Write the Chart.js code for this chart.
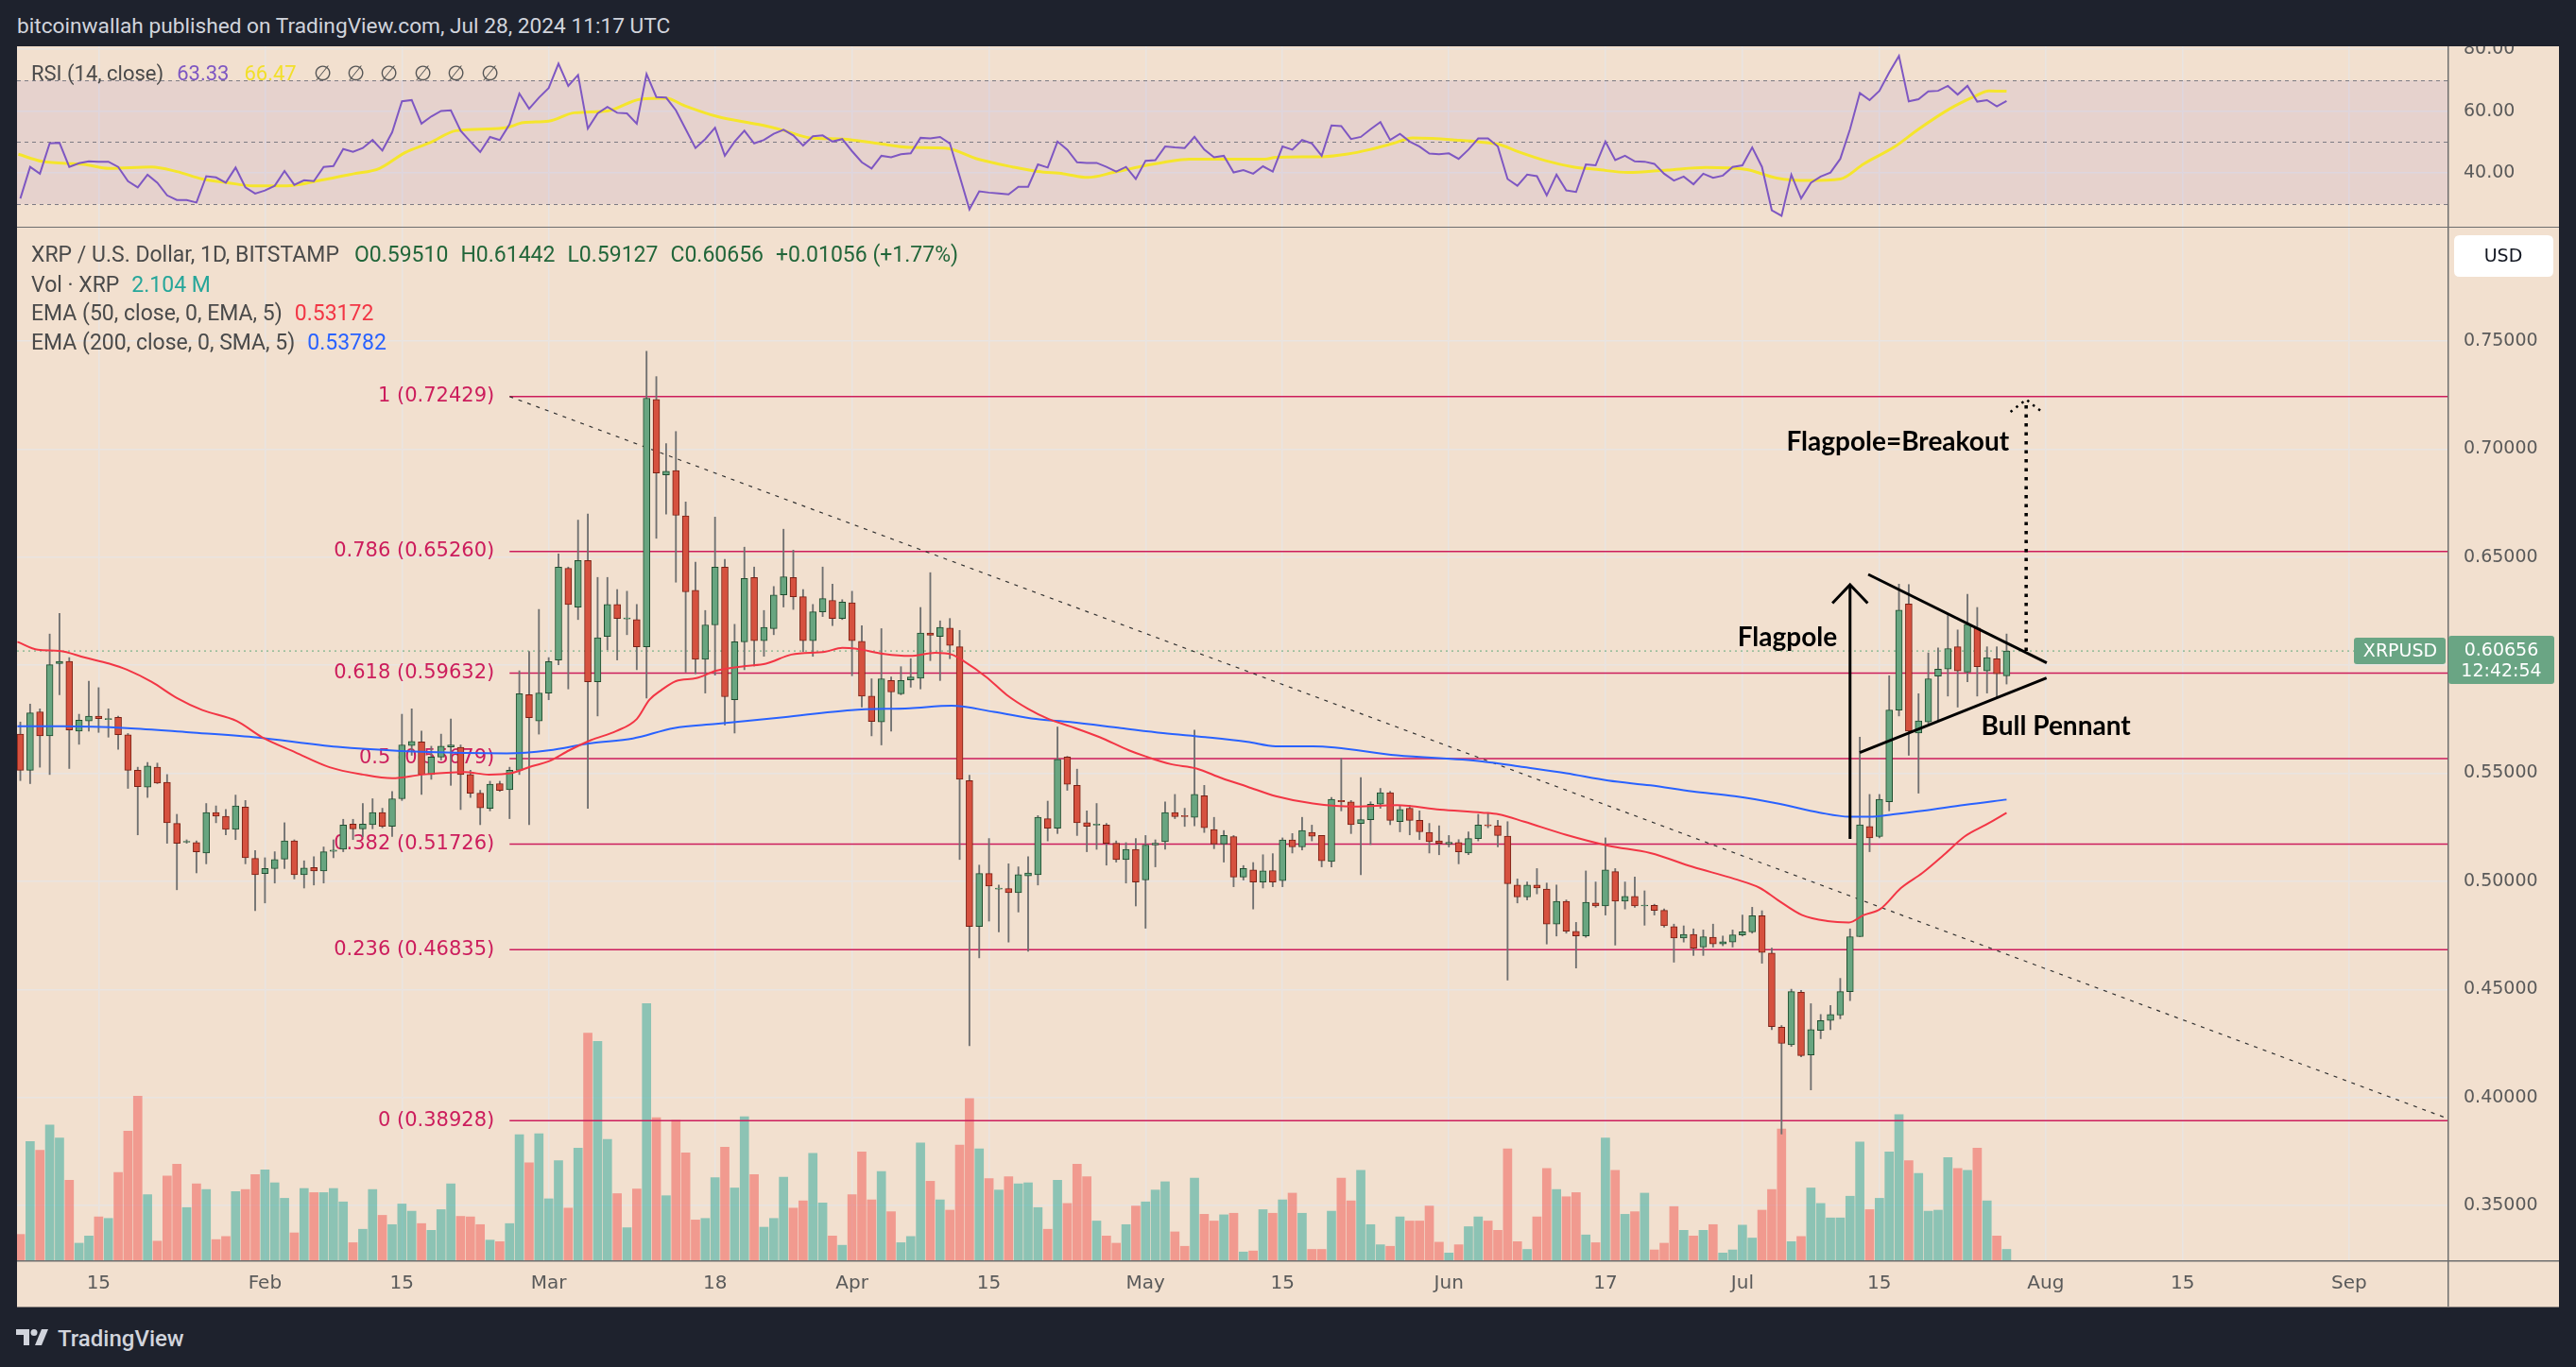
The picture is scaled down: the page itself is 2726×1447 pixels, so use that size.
<!DOCTYPE html>
<html>
<head>
<meta charset="utf-8">
<title>XRP / U.S. Dollar, 1D, BITSTAMP</title>
<script src="https://cdn.jsdelivr.net/npm/chart.js@4.4.1/dist/chart.umd.min.js"></script>
<style>
  html, body { margin: 0; padding: 0; width: 2726px; height: 1447px; overflow: hidden; background: #1e222d; font-family: Roboto, "Noto Sans", sans-serif; }
  #head { position: absolute; left: 18px; top: 13px; line-height: 30px; font-size: 22.7px; color: #d1d4dc; white-space: nowrap; }
  #frame { position: absolute; left: 18px; top: 49px; width: 2690px; height: 1334px; background: #f2e0cf; }
  #rsiBox { position: absolute; left: 0; top: 0; width: 2690px; height: 191px; }
  #sep { position: absolute; left: 0; top: 191px; width: 2690px; height: 1px; background: #6e6e6e; }
  #mainBox { position: absolute; left: 0; top: 192px; width: 2690px; height: 1142px; }
  #bottomLine { position: absolute; left: 18px; top: 1383px; width: 2690px; height: 1px; background: #8d8580; }
  .lg { position: absolute; left: 33px; line-height: 30px; font-size: 23px; color: #4a4a4a; white-space: nowrap; }
  .lg span { margin-left: 13px; }
  .rsiLg { font-size: 22px; }
  .ohlc { color: #22663a; }
  #logo { position: absolute; left: 17px; top: 1403px; display: flex; align-items: center; color: #d1d4dc; font-size: 24px; font-weight: 500; }
  #logo svg { margin-right: 8px; }
</style>
</head>
<body>
<div id="head">bitcoinwallah published on TradingView.com, Jul 28, 2024 11:17 UTC</div>
<div id="frame">
  <div id="rsiBox"><canvas id="rsiChart"></canvas></div>
  <div id="sep"></div>
  <div id="mainBox"><canvas id="priceChart"></canvas></div>
</div>
<div id="bottomLine"></div>

<div class="lg rsiLg" style="top:63px">RSI (14, close)<span style="color:#7e57c2;margin-left:14px">63.33</span><span style="color:#f2df2a;margin-left:16px">66.47</span><span style="color:#555;margin-left:18px">∅&nbsp;&nbsp; ∅&nbsp;&nbsp; ∅&nbsp;&nbsp; ∅&nbsp;&nbsp; ∅&nbsp;&nbsp; ∅</span></div>
<div class="lg" style="top:255px">XRP / U.S. Dollar, 1D, BITSTAMP<span class="ohlc" style="margin-left:16px">O0.59510</span><span class="ohlc">H0.61442</span><span class="ohlc">L0.59127</span><span class="ohlc">C0.60656</span><span class="ohlc">+0.01056 (+1.77%)</span></div>
<div class="lg" style="top:287px">Vol · XRP<span style="color:#26a69a">2.104 M</span></div>
<div class="lg" style="top:317px">EMA (50, close, 0, EMA, 5)<span style="color:#f23645">0.53172</span></div>
<div class="lg" style="top:348px">EMA (200, close, 0, SMA, 5)<span style="color:#2962ff">0.53782</span></div>

<div id="logo">
  <svg width="36" height="20" viewBox="0 0 36 20"><path d="M0 0h14v17H8V6H0z" fill="#d1d4dc"/><circle cx="19" cy="3.5" r="3.5" fill="#d1d4dc"/><path d="M27 0h7l-7 17h-7z" fill="#d1d4dc"/></svg>
  TradingView
</div>

<script>
// day numbers count from Jan 1, 2024 = 0; first candle is Jan 7 (day 6)
const startDay = 6;

const opens = [
  0.5681,0.5514,0.5784,0.5673,0.6007,0.6018,0.5695,0.5742,0.5764,0.5748,
  0.5759,0.5678,0.5514,0.5436,0.5528,0.5458,0.5268,0.5181,0.5179,0.5131,
  0.5318,0.5301,0.5240,0.5343,0.5106,0.5036,0.5059,0.5103,0.5187,0.5031,
  0.5064,0.5048,0.5139,0.5148,0.5265,0.5243,0.5262,0.5318,0.5254,0.5382,
  0.5628,0.5645,0.5494,0.5575,0.5622,0.5620,0.5494,0.5408,0.5338,0.5452,
  0.5424,0.5514,0.5863,0.5742,0.5871,0.6024,0.6448,0.6269,0.6484,0.5923,
  0.6133,0.6281,0.6214,0.6211,0.6085,0.7229,0.6880,0.6900,0.6691,0.6347,
  0.6027,0.6186,0.6454,0.5840,0.6108,0.6406,0.6113,0.6169,0.6325,0.6406,
  0.6317,0.6113,0.6247,0.6300,0.6216,0.6289,0.6110,0.5857,0.5737,0.5929,
  0.5868,0.5932,0.5940,0.6149,0.6133,0.6172,0.6085,0.5466,0.4791,0.5036,
  0.4964,0.4967,0.4947,0.5025,0.5031,0.5290,0.5246,0.5575,0.5444,0.5271,
  0.5260,0.5260,0.5176,0.5101,0.5148,0.5006,0.5168,0.5184,0.5318,0.5304,
  0.5296,0.5396,0.5240,0.5173,0.5207,0.5020,0.5053,0.4997,0.5050,0.5003,
  0.5192,0.5159,0.5226,0.5212,0.5092,0.5374,0.5368,0.5268,0.5285,0.5357,
  0.5410,0.5276,0.5338,0.5282,0.5226,0.5187,0.5173,0.5179,0.5131,0.5198,
  0.5260,0.5257,0.5209,0.4983,0.4928,0.4983,0.4964,0.4802,0.4908,0.4769,
  0.4747,0.4900,0.4886,0.5045,0.4908,0.4930,0.4886,0.4889,0.4866,0.4791,
  0.4738,0.4755,0.4696,0.4741,0.4710,0.4719,0.4752,0.4766,0.4841,0.4668,
  0.4325,0.4244,0.4487,0.4197,0.4311,0.4356,0.4381,0.4490,0.4744,0.5254,
  0.5207,0.5368,0.5792,0.6283,0.5686,0.5737,0.5949,0.5982,0.6085,0.5968,
  0.6172,0.5974,0.6030,0.59510
];
const highs = [
  0.5737,0.5820,0.5798,0.6144,0.6239,0.6035,0.5773,0.5926,0.5896,0.5798,
  0.5764,0.5684,0.5528,0.5550,0.5547,0.5494,0.5310,0.5192,0.5187,0.5360,
  0.5349,0.5332,0.5399,0.5374,0.5142,0.5109,0.5137,0.5271,0.5192,0.5095,
  0.5114,0.5159,0.5192,0.5287,0.5287,0.5360,0.5382,0.5338,0.5416,0.5773,
  0.5798,0.5695,0.5625,0.5681,0.5751,0.5631,0.5514,0.5421,0.5463,0.5463,
  0.5528,0.5974,0.6063,0.6258,0.6035,0.6515,0.6454,0.6671,0.6699,0.6406,
  0.6406,0.6350,0.6342,0.6281,0.7452,0.7335,0.7025,0.7081,0.6755,0.6476,
  0.6253,0.6685,0.6490,0.6189,0.6546,0.6454,0.6253,0.6364,0.6629,0.6532,
  0.6350,0.6281,0.6454,0.6375,0.6303,0.6342,0.6183,0.5937,0.6169,0.5946,
  0.5993,0.6030,0.6267,0.6428,0.6205,0.6216,0.6161,0.5491,0.5075,0.5198,
  0.4983,0.5081,0.5067,0.5114,0.5304,0.5371,0.5714,0.5578,0.5519,0.5326,
  0.5360,0.5268,0.5187,0.5179,0.5198,0.5212,0.5192,0.5368,0.5402,0.5338,
  0.5700,0.5444,0.5296,0.5235,0.5212,0.5073,0.5087,0.5123,0.5128,0.5201,
  0.5221,0.5296,0.5260,0.5212,0.5388,0.5569,0.5374,0.5480,0.5368,0.5430,
  0.5416,0.5352,0.5352,0.5326,0.5268,0.5257,0.5212,0.5193,0.5229,0.5310,
  0.5318,0.5282,0.5276,0.5011,0.4997,0.5059,0.4992,0.4983,0.4914,0.4810,
  0.5048,0.4997,0.5201,0.5059,0.4997,0.5020,0.4956,0.4894,0.4872,0.4802,
  0.4794,0.4780,0.4775,0.4802,0.4747,0.4775,0.4844,0.4880,0.4864,0.4691,
  0.4333,0.4501,0.4495,0.4434,0.4384,0.4426,0.4551,0.4780,0.5667,0.5402,
  0.5402,0.5951,0.6375,0.6373,0.5868,0.6057,0.6080,0.6230,0.6163,0.6328,
  0.6267,0.6085,0.6085,0.61442
];
const lows = [
  0.5466,0.5452,0.5528,0.5494,0.5863,0.5522,0.5634,0.5695,0.5689,0.5667,
  0.5611,0.5430,0.5215,0.5388,0.5452,0.5176,0.4961,0.5176,0.5039,0.5081,
  0.5271,0.5215,0.5193,0.5081,0.4864,0.4900,0.4992,0.5059,0.5011,0.4969,
  0.4983,0.4992,0.5109,0.5137,0.5193,0.5207,0.5243,0.5248,0.5207,0.5374,
  0.5583,0.5402,0.5472,0.5561,0.5444,0.5332,0.5388,0.5262,0.5326,0.5416,
  0.5290,0.5494,0.5262,0.5681,0.5840,0.6002,0.5890,0.6211,0.5338,0.5765,
  0.6071,0.6024,0.6141,0.5979,0.5848,0.6587,0.6699,0.6384,0.5968,0.5960,
  0.5871,0.5954,0.5723,0.5686,0.5979,0.5996,0.6041,0.6141,0.6269,0.6258,
  0.6063,0.6041,0.6225,0.6183,0.6211,0.5951,0.5806,0.5673,0.5631,0.5695,
  0.5863,0.5898,0.5890,0.6021,0.5929,0.6030,0.5101,0.4239,0.4646,0.4816,
  0.4766,0.4719,0.4858,0.4677,0.4983,0.5187,0.5221,0.5421,0.5212,0.5137,
  0.5148,0.5075,0.5089,0.4992,0.4886,0.4783,0.5067,0.5148,0.5290,0.5254,
  0.5257,0.5226,0.5151,0.5089,0.4975,0.5006,0.4872,0.4969,0.4975,0.4975,
  0.5131,0.5145,0.5187,0.5067,0.5067,0.5326,0.5221,0.5031,0.5170,0.5338,
  0.5262,0.5229,0.5215,0.5193,0.5131,0.5123,0.5159,0.5081,0.5123,0.5187,
  0.5248,0.5159,0.4543,0.4900,0.4914,0.4942,0.4710,0.4747,0.4760,0.4599,
  0.4741,0.4880,0.4844,0.4705,0.4872,0.4880,0.4797,0.4844,0.4788,0.4626,
  0.4719,0.4657,0.4657,0.4696,0.4702,0.4696,0.4747,0.4760,0.4621,0.4314,
  0.3831,0.4236,0.4188,0.4035,0.4272,0.4314,0.4364,0.4448,0.4744,0.5137,
  0.5201,0.5326,0.5765,0.5583,0.5408,0.5731,0.5745,0.5857,0.5806,0.5923,
  0.5857,0.5871,0.5848,0.59127
];
const closes = [
  0.5514,0.5779,0.5673,0.6002,0.6018,0.5700,0.5745,0.5764,0.5753,0.5753,
  0.5678,0.5514,0.5438,0.5533,0.5455,0.5271,0.5176,0.5184,0.5137,0.5318,
  0.5301,0.5240,0.5349,0.5109,0.5031,0.5059,0.5101,0.5187,0.5031,0.5062,
  0.5048,0.5137,0.5145,0.5260,0.5243,0.5265,0.5318,0.5254,0.5382,0.5631,
  0.5647,0.5494,0.5575,0.5625,0.5631,0.5494,0.5408,0.5340,0.5449,0.5421,
  0.5514,0.5868,0.5757,0.5871,0.6016,0.6454,0.6281,0.6484,0.5923,0.6127,
  0.6281,0.6216,0.6216,0.6085,0.7235,0.6889,0.6897,0.6693,0.6339,0.6027,
  0.6186,0.6454,0.5854,0.6108,0.6401,0.6113,0.6175,0.6325,0.6409,0.6317,
  0.6113,0.6247,0.6308,0.6216,0.6292,0.6113,0.5857,0.5740,0.5937,0.5876,
  0.5929,0.5946,0.6149,0.6138,0.6175,0.6091,0.5472,0.4791,0.5036,0.4978,
  0.4967,0.4947,0.5031,0.5039,0.5296,0.5246,0.5564,0.5449,0.5271,0.5254,
  0.5262,0.5176,0.5101,0.5148,0.4997,0.5168,0.5176,0.5318,0.5299,0.5299,
  0.5402,0.5248,0.5173,0.5212,0.5020,0.5059,0.4997,0.5048,0.4997,0.5192,
  0.5159,0.5235,0.5209,0.5095,0.5380,0.5368,0.5262,0.5285,0.5357,0.5410,
  0.5282,0.5332,0.5282,0.5229,0.5184,0.5176,0.5181,0.5137,0.5198,0.5260,
  0.5257,0.5212,0.4989,0.4928,0.4983,0.4969,0.4802,0.4908,0.4769,0.4747,
  0.4903,0.4886,0.5053,0.4908,0.4930,0.4886,0.4889,0.4866,0.4794,0.4738,
  0.4755,0.4691,0.4744,0.4710,0.4721,0.4752,0.4766,0.4841,0.4671,0.4328,
  0.4250,0.4490,0.4194,0.4314,0.4356,0.4384,0.4490,0.4744,0.5262,0.5201,
  0.5380,0.5792,0.6255,0.5695,0.5742,0.5937,0.5982,0.6077,0.5974,0.6189,
  0.5993,0.6035,0.5960,0.60656
];
// volume, millions of XRP
const volumes = [
  5.0,23.0,21.3,26.2,23.7,15.5,3.3,4.7,8.4,8.1,
  17.0,25.0,31.8,12.7,3.7,16.3,18.6,10.2,14.8,13.7,
  4.0,4.6,13.3,13.7,16.6,17.5,15.0,12.0,5.3,13.9,
  13.1,13.1,13.9,11.3,3.4,6.0,13.7,8.7,6.9,10.9,
  9.5,7.1,5.8,9.8,14.8,8.5,8.4,6.9,3.9,3.6,
  7.1,24.3,18.9,24.5,11.9,19.3,10.1,21.7,44.0,42.4,
  23.4,12.9,6.3,13.8,49.7,27.6,12.5,27.1,20.8,7.8,
  8.1,16.0,21.9,14.0,27.8,16.6,6.4,8.1,16.1,10.1,
  11.5,20.7,11.1,4.7,2.9,12.7,21.0,11.7,17.2,9.4,
  3.4,4.6,22.7,15.3,11.7,9.7,22.3,31.3,21.6,15.8,
  13.6,16.2,14.8,15.0,10.2,6.0,15.5,11.0,18.6,16.2,
  7.6,4.7,3.3,6.9,10.5,11.3,13.6,15.2,5.5,2.7,
  15.9,8.9,7.6,8.8,9.1,1.6,1.8,9.8,9.1,11.7,
  13.0,9.1,2.1,2.1,9.5,15.9,11.5,17.4,6.9,3.0,
  2.7,8.4,7.6,7.6,10.5,3.5,1.4,3.0,6.5,8.4,
  7.6,5.8,21.6,3.6,2.1,8.4,17.8,13.7,12.3,13.1,
  4.9,3.4,23.7,17.4,8.9,9.4,13.0,2.0,3.3,10.4,
  5.8,4.7,5.8,6.9,1.4,2.0,6.8,4.3,9.7,13.7,
  25.4,3.6,4.6,14.0,11.0,8.2,8.2,12.4,22.9,9.8,
  12.0,21.0,28.2,19.3,16.8,9.5,9.7,19.9,17.8,17.4,
  21.7,11.5,4.7,2.104
];
const rsiValues = [
  31.8,42.0,39.8,49.6,49.8,42.0,43.2,43.8,43.7,43.7,
  42.0,37.4,35.4,39.5,36.9,32.8,31.3,31.3,30.5,39.0,
  38.6,36.9,41.8,35.4,33.4,34.4,35.9,40.7,36.2,37.7,
  37.4,42.0,42.3,47.8,46.9,48.1,50.7,47.3,53.2,63.2,
  63.6,56.0,58.3,60.1,60.3,53.7,50.2,46.8,51.7,50.7,
  55.8,65.7,60.8,64.4,67.5,75.4,68.2,71.7,54.4,59.3,
  61.4,59.5,59.3,56.0,72.0,64.6,64.4,60.3,54.2,48.1,
  51.0,54.7,45.6,50.2,53.7,49.6,50.7,52.7,54.0,52.2,
  48.9,51.9,52.2,50.2,51.0,47.1,43.5,41.5,45.6,45.1,
  46.1,46.4,51.4,51.2,51.7,49.6,39.0,28.3,34.1,33.7,
  33.4,33.1,35.6,35.6,42.8,41.8,50.2,47.6,43.5,43.3,
  43.3,42.0,40.5,42.0,38.1,44.0,44.2,48.6,48.3,48.1,
  51.7,47.6,45.1,45.6,40.2,41.0,39.8,42.2,40.5,48.6,
  47.6,50.7,49.6,45.6,55.4,55.2,51.0,51.7,54.2,56.5,
  50.7,52.7,50.2,48.6,46.3,46.1,46.4,44.6,47.6,51.2,
  51.2,48.6,38.1,35.9,39.5,39.0,32.8,39.5,34.4,33.9,
  42.8,42.5,50.2,44.2,45.6,43.8,43.7,43.0,39.8,37.6,
  38.9,36.4,39.8,38.5,39.2,42.0,42.5,48.3,42.0,28.0,
  26.2,39.5,31.8,36.9,38.9,40.2,44.6,54.2,65.9,63.6,
  66.6,72.5,77.9,63.2,63.9,66.4,66.6,68.2,65.4,68.2,
  63.1,63.6,61.6,63.33
];
const rsiMaDays = [5.8,8.2,12.5,15.1,19.4,22.0,24.6,27.2,29.8,33.2,36.7,40.1,42.7,45.3,47.9,50.5,53.1,55.7,57.4,60.0,
  62.6,66.0,69.4,72.0,73.8,77.2,81.5,84.1,86.7,90.1,93.6,97.0,100.5,103.9,107.4,110.0,112.6,115.1,117.7,120.3,
  122.9,125.5,128.9,133.2,134.3,139.1,141.5,143.9,146.3,148.3,150.3,152.7,155.1,157.1,159.1,161.9,164.7,167.1,170.3,174.3,
  178.3,182.3,185.5,188.7,192.0,194.4,197.6,200.0,203.2,205.6,207.2,209.0];
const rsiMaValues = [46.1,43.8,42.8,41.5,42.0,40.5,38.1,36.9,35.9,35.9,37.7,39.8,41.5,46.6,49.9,53.7,54.2,54.7,56.3,56.8,
  59.5,60.1,63.9,64.2,61.9,58.3,55.7,53.7,51.4,51.0,49.6,48.3,48.1,44.5,42.0,40.5,39.8,38.6,40.2,42.0,
  43.5,44.5,44.5,44.5,45.1,45.3,46.1,47.6,49.6,51.4,51.2,50.7,50.1,49.3,46.9,44.0,42.0,41.2,40.2,41.0,
  41.8,41.2,38.4,37.6,38.1,43.0,48.6,54.2,60.8,64.6,66.6,66.47];
const ema50Days = [5.7,7.8,10.0,12.6,15.1,16.9,19.4,22.0,24.6,28.1,30.7,34.1,37.6,41.0,44.0,47.1,51.4,53.9,56.1,58.3,
  60.0,62.1,64.3,66.9,69.0,70.3,71.5,73.0,75.1,77.1,80.1,82.2,84.8,88.3,90.0,91.3,94.3,96.9,99.5,101.2,
  102.5,104.7,106.8,109.0,111.1,113.3,116.3,119.3,121.0,123.6,126.2,128.8,131.4,134.3,138.1,142.4,146.7,151.1,155.4,157.1,
  159.7,164.0,168.3,172.6,176.9,181.2,183.8,185.6,188.1,190.7,192.9,194.4,196.1,198.2,200.4,202.6,204.7,206.9,209.0];
const ema50Values = [0.6108,0.6071,0.6066,0.6035,0.6007,0.5979,0.5923,0.5848,0.5792,0.5742,0.5667,0.5597,0.5528,0.5494,0.5477,0.5494,0.5505,0.5494,0.5500,0.5533,
  0.5555,0.5606,0.5653,0.5695,0.5751,0.5840,0.5884,0.5926,0.5940,0.5974,0.5996,0.6007,0.6049,0.6063,0.6080,0.6077,0.6052,0.6043,0.6057,0.6049,
  0.6016,0.5946,0.5863,0.5798,0.5751,0.5717,0.5667,0.5606,0.5578,0.5542,0.5522,0.5477,0.5438,0.5394,0.5360,0.5346,0.5352,0.5332,0.5318,0.5310,
  0.5276,0.5215,0.5165,0.5131,0.5067,0.5011,0.4969,0.4914,0.4844,0.4816,0.4810,0.4844,0.4872,0.4969,0.5039,0.5123,0.5207,0.5262,0.53172];
const ema200Days = [5.7,10.4,16.9,23.3,29.8,38.4,44.9,51.4,55.7,60.0,64.3,68.6,72.8,77.1,84.0,90.9,96.9,101.2,105.5,109.8,
  113.3,118.5,122.8,127.1,131.4,134.3,138.1,146.7,155.4,159.7,164.0,168.3,172.6,176.9,181.2,185.6,189.9,192.9,195.0,197.4,
  200.4,204.7,209.0];
const ema200Values = [0.5717,0.5717,0.5709,0.5689,0.5667,0.5622,0.5603,0.5594,0.5592,0.5606,0.5639,0.5661,0.5709,0.5728,0.5759,0.5792,0.5801,0.5812,0.5784,0.5751,
  0.5737,0.5709,0.5686,0.5667,0.5645,0.5625,0.5625,0.5583,0.5555,0.5528,0.5500,0.5466,0.5444,0.5416,0.5394,0.5360,0.5318,0.5299,0.5299,0.5310,
  0.5326,0.5354,0.53782];

const priceTicks = [0.35, 0.40, 0.45, 0.50, 0.55, 0.60, 0.65, 0.70, 0.75];
const rsiTicks = [40, 60, 80];
const rsiLevels = [70, 50, 30];
const xTickDays = [14, 31, 45, 60, 77, 91, 105, 121, 135, 152, 168, 182, 196, 213, 227, 244];
const xTickLabels = ['15', 'Feb', '15', 'Mar', '18', 'Apr', '15', 'May', '15', 'Jun', '17', 'Jul', '15', 'Aug', '15', 'Sep'];

const fibLevels = ['1', '0.786', '0.618', '0.5', '0.382', '0.236', '0'];
const fibPrices = [0.72429, 0.65260, 0.59632, 0.55679, 0.51726, 0.46835, 0.38928];
const fibStartDay = 56;
const trendDays = [56, 254.06];
const trendPrices = [0.7243, 0.3903];

// hand drawn annotations, in (day, price)
const flagpoleDays = [193.0, 193.0];
const flagpolePrices = [0.5196, 0.6372];
const flagpoleHeadDays = [191.2, 193.0, 194.8];
const flagpoleHeadPrices = [0.6287, 0.6372, 0.6287];
const pennantTopDays = [194.86, 213.1];
const pennantTopPrices = [0.6420, 0.6011];
const pennantBottomDays = [193.99, 213.08];
const pennantBottomPrices = [0.5596, 0.5941];
const breakoutDays = [211.0, 211.0];
const breakoutPrices = [0.6066, 0.7229];
const breakoutHeadDays = [209.4, 211.0, 212.8];
const breakoutHeadPrices = [0.7172, 0.7229, 0.7165];
const labelTexts = ['Flagpole', 'Flagpole=Breakout', 'Bull Pennant'];
const labelDays = [181.5, 186.5, 206.4];
const labelPrices = [0.6127, 0.7034, 0.5716];

const lastClose = closes[closes.length - 1];
const X_MIN = 5.66, X_MAX = 254.06;

const FIB = '#cc1d5c';
const UP = '#68a580', UP_EDGE = '#1f4d2e';
const DOWN = '#d6513f', DOWN_EDGE = '#7a2014';
const GRID = 'rgba(232,228,226,0.95)';
const AXIS_TEXT = '#5a5a5a';

const days = opens.map((_, i) => startDay + i);
const isUp = opens.map((o, i) => closes[i] >= o);
const pts = (xs, ys) => xs.map((x, i) => ({ x, y: ys[i] }));

const xTicks = (s) => { s.ticks = xTickDays.map(v => ({ value: v })); };

function xScale(showLabels) {
  return {
    type: 'linear', min: X_MIN, max: X_MAX, offset: false,
    afterBuildTicks: xTicks,
    grid: { color: GRID, lineWidth: 1.5, drawTicks: false, offset: false },
    border: { display: false },
    ticks: {
      display: showLabels, autoSkip: false, maxRotation: 0, padding: 13,
      color: AXIS_TEXT, font: { family: 'DejaVu Sans', size: 20 },
      callback: (v) => xTickLabels[xTickDays.indexOf(v)]
    },
    afterFit: (s) => { s.height = showLabels ? 49 : 0; s.paddingLeft = 0; s.paddingRight = 0; }
  };
}

function yScale(min, max, ticks, fmt) {
  return {
    position: 'right', min, max,
    afterBuildTicks: (s) => { s.ticks = ticks.map(v => ({ value: v })); },
    grid: { color: GRID, lineWidth: 1.5, drawTicks: false },
    border: { display: false },
    ticks: { padding: 17, color: AXIS_TEXT, font: { family: 'DejaVu Sans', size: 19 }, callback: fmt },
    afterFit: (s) => { s.width = 118; s.paddingTop = 0; s.paddingBottom = 0; }
  };
}

function axisDivider(chart) {
  const { ctx, chartArea: a } = chart;
  ctx.save();
  ctx.fillStyle = '#6e6e6e';
  ctx.fillRect(Math.round(a.right), 0, 1.5, chart.height);
  ctx.restore();
}

// RSI pane
const rsiPlugin = {
  id: 'rsiGuides',
  beforeDatasetsDraw(chart) {
    const { ctx, chartArea: a, scales: { y } } = chart;
    ctx.save();
    const top = y.getPixelForValue(70), bot = y.getPixelForValue(30);
    ctx.fillStyle = 'rgba(126,87,194,0.1)';
    ctx.fillRect(a.left, top, a.right - a.left, bot - top);
    ctx.strokeStyle = '#7d7b84';
    ctx.lineWidth = 1;
    ctx.setLineDash([4, 4]);
    rsiLevels.forEach(v => {
      const py = Math.round(y.getPixelForValue(v)) + 0.5;
      ctx.beginPath(); ctx.moveTo(a.left, py); ctx.lineTo(a.right, py); ctx.stroke();
    });
    ctx.restore();
  },
  afterDraw: axisDivider
};

new Chart(document.getElementById('rsiChart'), {
  type: 'line',
  data: {
    datasets: [
      { data: pts(days, rsiValues), borderColor: '#7e57c2', borderWidth: 2, pointRadius: 0, tension: 0 },
      { data: pts(rsiMaDays, rsiMaValues), borderColor: '#f5e52c', borderWidth: 3, pointRadius: 0, cubicInterpolationMode: 'monotone' }
    ]
  },
  options: {
    responsive: true, maintainAspectRatio: false, animation: false, events: [],
    layout: { padding: 0 },
    plugins: { legend: { display: false }, tooltip: { enabled: false } },
    scales: { x: xScale(false), y: yScale(22.67, 80.99, rsiTicks, v => v.toFixed(2)) }
  },
  plugins: [rsiPlugin]
});

// price pane
function line(xs, ys, color, width, extra) {
  return Object.assign({ type: 'line', data: pts(xs, ys), borderColor: color, borderWidth: width,
    pointRadius: 0, tension: 0, fill: false, yAxisID: 'y' }, extra || {});
}

const fibSets = fibPrices.map(p => line([fibStartDay, X_MAX], [p, p], FIB, 1.5, { order: 9 }));

function roundRect(ctx, x, y, w, h, r) {
  ctx.beginPath();
  ctx.moveTo(x + r, y); ctx.lineTo(x + w - r, y); ctx.quadraticCurveTo(x + w, y, x + w, y + r);
  ctx.lineTo(x + w, y + h - r); ctx.quadraticCurveTo(x + w, y + h, x + w - r, y + h);
  ctx.lineTo(x + r, y + h); ctx.quadraticCurveTo(x, y + h, x, y + h - r);
  ctx.lineTo(x, y + r); ctx.quadraticCurveTo(x, y, x + r, y);
  ctx.closePath();
}

const pricePlugin = {
  id: 'priceOverlay',
  beforeDatasetsDraw(chart) {
    const { ctx, scales: { x, y } } = chart;
    ctx.save();
    ctx.font = '21px "DejaVu Sans"';
    ctx.fillStyle = FIB;
    ctx.textAlign = 'right';
    ctx.textBaseline = 'middle';
    const lx = x.getPixelForValue(fibStartDay) - 16;
    fibLevels.forEach((lv, i) => ctx.fillText(lv + ' (' + fibPrices[i].toFixed(5) + ')', lx, y.getPixelForValue(fibPrices[i])));
    ctx.restore();
  },
  afterDatasetsDraw(chart) {
    const { ctx, scales: { x, y } } = chart;
    ctx.save();
    ctx.font = 'bold 28px Lato';
    ctx.fillStyle = '#000';
    ctx.textAlign = 'left';
    ctx.textBaseline = 'middle';
    labelTexts.forEach((t, i) => ctx.fillText(t, x.getPixelForValue(labelDays[i]), y.getPixelForValue(labelPrices[i])));
    ctx.restore();
  },
  afterDraw(chart) {
    const { ctx, chartArea: a, scales: { y } } = chart;
    ctx.save();
    ctx.fillStyle = '#6e6e6e';
    ctx.fillRect(0, Math.round(a.bottom), chart.width, 1.5);
    ctx.fillRect(Math.round(a.right), 0, 1.5, chart.height);

    const py = y.getPixelForValue(lastClose);
    ctx.font = '19px "DejaVu Sans"';
    ctx.textBaseline = 'middle';
    ctx.textAlign = 'center';
    // series name tag
    ctx.fillStyle = '#6aa584';
    roundRect(ctx, a.right - 99, py - 14, 97, 28, 3); ctx.fill();
    ctx.fillStyle = '#fff';
    ctx.fillText('XRPUSD', a.right - 50, py + 1);
    // last price on axis
    ctx.fillStyle = '#6aa584';
    roundRect(ctx, a.right + 1, py - 16, 112, 51, 3); ctx.fill();
    ctx.fillStyle = '#fff';
    ctx.fillText(lastClose.toFixed(5), a.right + 57, py);
    ctx.fillText('12:42:54', a.right + 57, py + 22);
    // currency badge
    ctx.fillStyle = '#ffffff';
    roundRect(ctx, a.right + 7, 8, 105, 44, 6); ctx.fill();
    ctx.fillStyle = '#131722';
    ctx.fillText('USD', a.right + 59, 31);
    ctx.restore();
  }
};

new Chart(document.getElementById('priceChart'), {
  type: 'bar',
  data: {
    datasets: [
      { type: 'bar', yAxisID: 'vol', data: pts(days, volumes), order: 10, grouped: false, barThickness: 9,
        backgroundColor: isUp.map(u => u ? 'rgba(38,166,154,0.5)' : 'rgba(239,83,80,0.5)'), borderWidth: 0 },
      ...fibSets,
      line(trendDays, trendPrices, '#333', 1.2, { borderDash: [4, 6], order: 8 }),
      line([X_MIN, X_MAX], [lastClose, lastClose], '#5fa77a', 1, { borderDash: [2, 4], order: 8 }),
      { type: 'bar', yAxisID: 'y', data: days.map((d, i) => ({ x: d, y: [lows[i], highs[i]] })), order: 6,
        grouped: false, barThickness: 1.2, backgroundColor: '#707070', borderWidth: 0 },
      { type: 'bar', yAxisID: 'y', data: days.map((d, i) => ({ x: d, y: [opens[i], closes[i]] })), order: 5,
        grouped: false, barThickness: 7, minBarLength: 1, borderSkipped: false, borderWidth: 1,
        backgroundColor: isUp.map(u => u ? UP : DOWN), borderColor: isUp.map(u => u ? UP_EDGE : DOWN_EDGE) },
      line(ema50Days, ema50Values, '#f23645', 2, { order: 4, tension: 0, cubicInterpolationMode: 'monotone' }),
      line(ema200Days, ema200Values, '#2962ff', 2, { order: 4, tension: 0, cubicInterpolationMode: 'monotone' }),
      line(flagpoleDays, flagpolePrices, '#000', 3, { order: 1 }),
      line(flagpoleHeadDays, flagpoleHeadPrices, '#000', 3, { order: 1 }),
      line(pennantTopDays, pennantTopPrices, '#000', 3, { order: 1 }),
      line(pennantBottomDays, pennantBottomPrices, '#000', 3, { order: 1 }),
      line(breakoutDays, breakoutPrices, '#000', 3.5, { order: 1, borderDash: [3.5, 6] }),
      line(breakoutHeadDays, breakoutHeadPrices, '#000', 2.5, { order: 1, borderDash: [2.5, 5] })
    ]
  },
  options: {
    responsive: true, maintainAspectRatio: false, animation: false, events: [],
    layout: { padding: 0 },
    plugins: { legend: { display: false }, tooltip: { enabled: false } },
    scales: {
      x: xScale(true),
      y: yScale(0.3247, 0.8024, priceTicks, v => v.toFixed(5)),
      vol: { display: false, min: 0, max: 200 }
    }
  },
  plugins: [pricePlugin]
});
</script>
</body>
</html>
